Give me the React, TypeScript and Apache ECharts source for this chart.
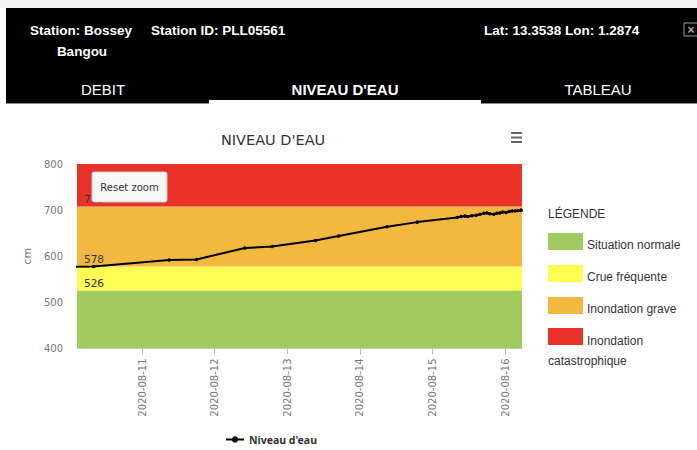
import React, { useEffect, useRef } from "react";
import * as echarts from "echarts";

// ---- data ----
const times = [
  "2020-08-10T00:00", "2020-08-10T08:00", "2020-08-11T09:00", "2020-08-11T18:00",
  "2020-08-12T10:00", "2020-08-12T19:00", "2020-08-13T09:20", "2020-08-13T17:00",
  "2020-08-14T09:00", "2020-08-14T19:00", "2020-08-15T08:10", "2020-08-15T09:30",
  "2020-08-15T10:45", "2020-08-15T11:45", "2020-08-15T13:00", "2020-08-15T14:30",
  "2020-08-15T15:45", "2020-08-15T17:00", "2020-08-15T18:00", "2020-08-15T19:00",
  "2020-08-15T20:15", "2020-08-15T21:15", "2020-08-15T22:15", "2020-08-15T23:15",
  "2020-08-16T00:20", "2020-08-16T01:20", "2020-08-16T02:20", "2020-08-16T03:20",
  "2020-08-16T04:20", "2020-08-16T05:20",
];
const levels = [
  577, 578, 592, 593,
  618, 621, 634, 644,
  664, 674, 684, 686,
  687, 686, 688, 689,
  691, 693, 694, 692,
  691, 693, 694, 696,
  695, 697, 698, 698,
  699, 700,
];
const bandBounds = [400, 526, 578, 708, 800];
const bandNames = ["Situation normale", "Crue fréquente", "Inondation grave", "Inondation catastrophique"];
const bandColors = ["#A2CB60", "#FEFD54", "#F3B83F", "#E8322A"];
const bandLabels = ["", "526", "578", "708"];
const xTickDates = ["2020-08-11", "2020-08-12", "2020-08-13", "2020-08-14", "2020-08-15", "2020-08-16"];
const xMin = "2020-08-10T02:30";
const xMax = "2020-08-16T05:37";
const yTicks = [400, 500, 600, 700, 800];
const seriesName = "Niveau d'eau";

const toMs = (s: string) => Date.parse(s.length > 10 ? s + ":00Z" : s + "T00:00:00Z");

const CHART_FONT = "DejaVu Sans";
const HTML_FONT = "Liberation Sans";

export default function App() {
  const ref = useRef<HTMLDivElement>(null);
  useEffect(() => {
    if (!ref.current) return;
    const chart = echarts.init(ref.current, null, { renderer: "svg" });

    const bandsData = bandNames.map((n, i) => [
      {
        yAxis: bandBounds[i],
        name: bandLabels[i],
        itemStyle: { color: bandColors[i], opacity: 1 },
        label: {
          show: bandLabels[i] !== "",
          position: "insideBottomLeft",
          formatter: bandLabels[i],
          color: "#333",
          fontSize: 10.5,
          fontFamily: CHART_FONT,
          distance: 2,
          offset: [5, 0],
        },
      },
      { yAxis: bandBounds[i + 1] },
    ]);

    const legendItems: any[] = [];
    const legendY = [233, 265, 297, 328];
    bandNames.forEach((n, i) => {
      legendItems.push({
        type: "rect",
        shape: { x: 548, y: legendY[i], width: 35, height: 17 },
        style: { fill: bandColors[i] },
      });
      if (i < 3) {
        legendItems.push({
          type: "text",
          x: 587,
          y: legendY[i] + 12,
          style: { text: n, fill: "#333", font: `12px "${HTML_FONT}"`, textVerticalAlign: "middle" },
        });
      } else {
        const parts = n.split(" ");
        legendItems.push({
          type: "text",
          x: 587,
          y: legendY[i] + 13,
          style: { text: parts[0], fill: "#333", font: `12px "${HTML_FONT}"`, textVerticalAlign: "middle" },
        });
        legendItems.push({
          type: "text",
          x: 548,
          y: legendY[i] + 33,
          style: { text: parts[1], fill: "#333", font: `12px "${HTML_FONT}"`, textVerticalAlign: "middle" },
        });
      }
    });

    const white = "#fff";
    const hdrBold = `bold 13.5px "${HTML_FONT}"`;

    chart.setOption({
      animation: false,
      backgroundColor: "#fff",
      title: {
        text: "NIVEAU D'EAU",
        left: 216,
        top: 127,
        textStyle: { fontSize: 14.5, fontWeight: "normal", color: "#333", fontFamily: CHART_FONT },
      },
      grid: { left: 77, right: 175, top: 164, bottom: 101.5 },
      legend: {
        data: [seriesName],
        left: 220,
        top: 429,
        itemWidth: 18,
        itemHeight: 8,
        itemGap: 4,
        textStyle: { fontSize: 10.5, fontWeight: "bold", color: "#333", fontFamily: "Noto Sans" },
      },
      xAxis: {
        type: "value",
        min: toMs(xMin),
        max: toMs(xMax),
        splitLine: { show: false },
        axisLine: { show: true, lineStyle: { color: "#ccd6eb" } },
        axisTick: {
          show: true,
          customValues: xTickDates.map(toMs),
          length: 6,
          lineStyle: { color: "#bbb" },
        },
        axisLabel: {
          customValues: xTickDates.map(toMs),
          rotate: 90,
          margin: 10,
          color: "#777",
          fontSize: 10,
          fontFamily: CHART_FONT,
          formatter: (v: number) => new Date(v).toISOString().slice(0, 10),
        },
      },
      yAxis: {
        type: "value",
        min: yTicks[0],
        max: yTicks[yTicks.length - 1],
        interval: 100,
        splitLine: { show: false },
        axisLine: { show: false },
        axisTick: { show: false },
        axisLabel: { color: "#777", fontSize: 10, fontFamily: CHART_FONT, margin: 14 },
        name: "cm",
        nameLocation: "middle",
        nameGap: 40,
        nameTextStyle: { color: "#777", fontSize: 11, fontFamily: CHART_FONT },
      },
      series: [
        {
          type: "line",
          name: seriesName,
          data: times.map((t, i) => [toMs(t), levels[i]]),
          symbol: "circle",
          symbolSize: 3.5,
          showSymbol: true,
          showAllSymbol: true,
          clip: true,
          color: "#000",
          lineStyle: { color: "#000", width: 2 },
          itemStyle: { color: "#000" },
          markArea: { silent: true, data: bandsData },
          z: 3,
        },
      ],
      graphic: [
        // header
        { type: "rect", shape: { x: 0, y: 0, width: 697, height: 8 }, style: { fill: "#f4f4f6" } },
        { type: "rect", shape: { x: 6, y: 8, width: 691, height: 95 }, style: { fill: "#000" } },
        { type: "rect", shape: { x: 6, y: 103, width: 203, height: 1 }, style: { fill: "#888" } },
        { type: "rect", shape: { x: 481, y: 103, width: 216, height: 1 }, style: { fill: "#888" } },
        { type: "rect", shape: { x: 209, y: 100, width: 272, height: 4 }, style: { fill: "#fff" } },
        { type: "text", x: 30, y: 30, style: { text: "Station: Bossey", fill: white, font: hdrBold, textVerticalAlign: "middle" } },
        { type: "text", x: 82, y: 51, style: { text: "Bangou", fill: white, font: hdrBold, textAlign: "center", textVerticalAlign: "middle" } },
        { type: "text", x: 151, y: 30, style: { text: "Station ID: PLL05561", fill: white, font: hdrBold, textVerticalAlign: "middle" } },
        { type: "text", x: 484, y: 30, style: { text: "Lat: 13.3538 Lon: 1.2874", fill: white, font: hdrBold, textVerticalAlign: "middle" } },
        { type: "rect", shape: { x: 684, y: 23, width: 14, height: 13 }, style: { fill: "none", stroke: "#999", lineWidth: 1 } },
        { type: "text", x: 691, y: 29.5, style: { text: "×", fill: "#aaa", font: `bold 12px "${HTML_FONT}"`, textAlign: "center", textVerticalAlign: "middle" } },
        { type: "text", x: 103, y: 89, style: { text: "DEBIT", fill: white, font: `15px "${HTML_FONT}"`, textAlign: "center", textVerticalAlign: "middle" } },
        { type: "text", x: 345, y: 89, style: { text: "NIVEAU D'EAU", fill: white, font: `bold 15px "${HTML_FONT}"`, textAlign: "center", textVerticalAlign: "middle" } },
        { type: "text", x: 598, y: 89, style: { text: "TABLEAU", fill: white, font: `15px "${HTML_FONT}"`, textAlign: "center", textVerticalAlign: "middle" } },
        // hamburger menu
        { type: "rect", shape: { x: 511, y: 132, width: 11, height: 2 }, style: { fill: "#666" } },
        { type: "rect", shape: { x: 511, y: 136.5, width: 11, height: 2 }, style: { fill: "#666" } },
        { type: "rect", shape: { x: 511, y: 141, width: 11, height: 2 }, style: { fill: "#666" } },
        // reset zoom button (above the plot bands)
        { type: "rect", z: 100, shape: { x: 92, y: 172, width: 75, height: 30, r: 2 }, style: { fill: "#f7f7f7", stroke: "#ccc", lineWidth: 1 } },
        { type: "text", z: 101, x: 129.5, y: 187, style: { text: "Reset zoom", fill: "#333", font: `10px "${CHART_FONT}"`, textAlign: "center", textVerticalAlign: "middle" } },
        // HTML legend
        { type: "text", x: 548, y: 214, style: { text: "LÉGENDE", fill: "#333", font: `12px "${HTML_FONT}"`, textVerticalAlign: "middle" } },
        ...legendItems,
      ],
    });
    return () => chart.dispose();
  }, []);
  return <div ref={ref} style={{ position: "fixed", left: 0, top: 0, width: 697, height: 450 }} />;
}
